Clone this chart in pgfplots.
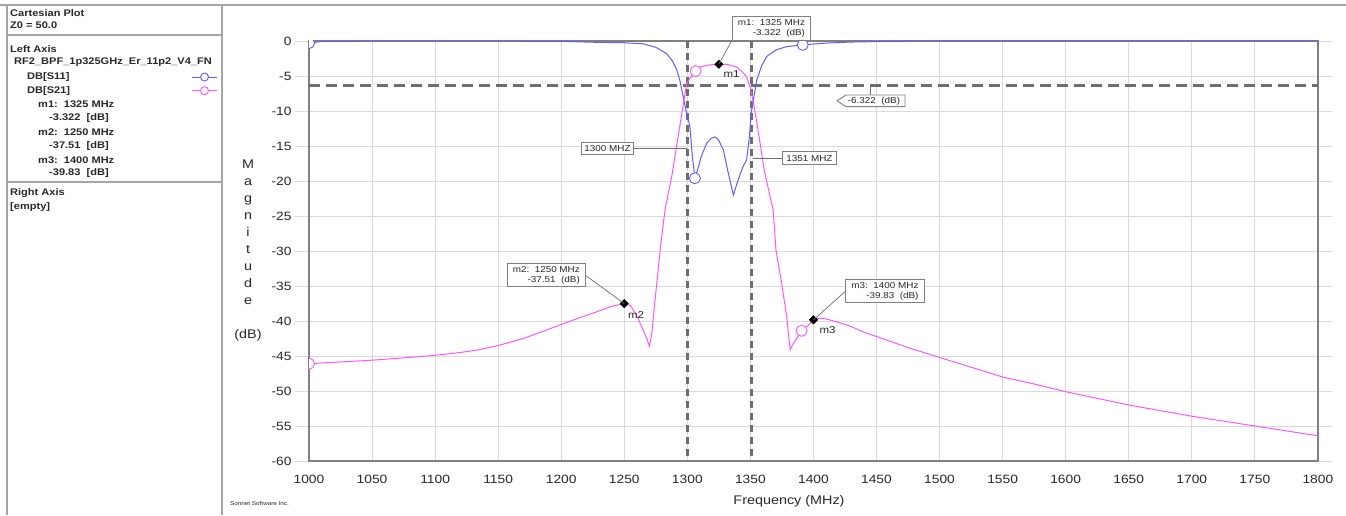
\documentclass[border=0pt]{standalone}
\usepackage{fontspec}
\setmainfont[FakeStretch=1.15]{Liberation Sans}
\usepackage{pgfplots}
\pgfplotsset{compat=1.18}
\definecolor{sblue}{RGB}{95,95,255}
\definecolor{smag}{RGB}{255,85,255}
\definecolor{framegray}{RGB}{128,128,128}
\definecolor{gridgray}{RGB}{218,218,218}
\definecolor{dashgray}{RGB}{110,110,110}
\definecolor{panelgray}{RGB}{165,165,165}
\definecolor{txt}{RGB}{40,40,40}
\begin{document}
\begin{tikzpicture}[x=1pt,y=1pt]
\useasboundingbox (0,0) rectangle (1346,515);
\fill[white] (0,0) rectangle (1346,515);
% frame of the window
\draw[panelgray, line width=1.5pt] (0,510) -- (1346,510);
\draw[panelgray, line width=1.5pt] (7,0) -- (7,510);
\draw[panelgray, line width=1.5pt] (222,0) -- (222,510);
\draw[panelgray, line width=1.5pt] (7,480) -- (222,480);
\draw[panelgray, line width=1.5pt] (7,333) -- (222,333);
% panel text
\begin{scope}[every node/.style={anchor=west, inner sep=0pt, text=txt, font=\fontsize{9.6}{11}\selectfont\bfseries}]
\node at (10,502.3) {Cartesian Plot};
\node at (10,490) {Z0 = 50.0};
\node at (10,466) {Left Axis};
\begin{scope}
\clip (7,440) rectangle (221,470);
\node at (14,453) {RF2\_BPF\_1p325GHz\_Er\_11p2\_V4\_FN};
\end{scope}
\node at (27,438) {DB[S11]};
\node at (27,424.3) {DB[S21]};
\node at (38,410.7) {m1:\ \ 1325 MHz};
\node at (49,396.7) {-3.322\ \ [dB]};
\node at (38,382.7) {m2:\ \ 1250 MHz};
\node at (49,369.3) {-37.51\ \ [dB]};
\node at (38,355) {m3:\ \ 1400 MHz};
\node at (49,341.7) {-39.83\ \ [dB]};
\node at (10,321.7) {Right Axis};
\node at (10,308.3) {[empty]};
\end{scope}
\draw[sblue, line width=0.9pt] (192,438) -- (217,438);
\draw[sblue, line width=0.9pt, fill=white] (204.5,438) circle (4pt);
\draw[smag, line width=0.9pt] (192,424.3) -- (217,424.3);
\draw[smag, line width=0.9pt, fill=white] (204.5,424.3) circle (4pt);

\begin{axis}[
  at={(309pt,54pt)}, anchor=south west, scale only axis,
  width=1009pt, height=420pt,
  xmin=1000, xmax=1800, ymin=-60, ymax=0,
  xtick={1000,1050,...,1800}, ytick={-60,-55,...,0},
  grid=major, major grid style={gridgray, line width=0.9pt},
  axis line style={framegray, line width=1.3pt},
  tick align=outside, major tick length=14pt,
  xtick style={draw=none}, ytick style={gridgray, line width=0.9pt},
  ticklabel style={font=\fontsize{12}{14}\selectfont, text=txt},
  xticklabel style={yshift=3pt},
  /pgf/number format/assume math mode=true,
  /pgf/number format/1000 sep={},
  clip marker paths=true,
]
\addplot[dashgray, line width=2.6pt, dash pattern=on 11pt off 6pt] coordinates {(1000,-6.322) (1800,-6.322)};
\addplot[dashgray, line width=2.6pt, dash pattern=on 7pt off 5pt] coordinates {(1300,0) (1300,-60)};
\addplot[dashgray, line width=2.6pt, dash pattern=on 7pt off 5pt] coordinates {(1351,0) (1351,-60)};
% S11
\addplot[sblue, line width=1pt] coordinates {
(1000,-0.3) (1010,-0.05) (1100,0) (1200,-0.05) (1230,-0.2) (1250,-0.25) (1265,-0.4)
(1275,-0.9) (1283.6,-1.8) (1288,-2.8) (1291.6,-4.1) (1294,-5.6) (1296.8,-8) (1299,-10)
(1302,-12.2) (1304,-16.5) (1306,-19.5) (1308,-18.5) (1311,-16.5) (1315.4,-14.6) (1319,-13.9)
(1322,-13.7) (1325,-14.2) (1328.6,-15.6) (1332,-18.5) (1336.5,-22) (1340,-20) (1344,-18)
(1347,-17) (1349,-14) (1351,-9.9) (1355,-5.6) (1359,-3.5) (1363,-2.2) (1370,-1.3)
(1378.8,-0.8) (1391.7,-0.55) (1410,-0.3) (1430,-0.15) (1460,-0.05) (1500,0) (1800,0)};
\addplot[only marks, mark=*, mark size=5.5pt, mark options={draw=sblue, fill=white, line width=0.9pt}]
coordinates {(1000,-0.3) (1306,-19.6) (1391.5,-0.55)};
% S21
\addplot[smag, line width=1pt] coordinates {
(1000,-46.1) (1020,-45.9) (1050,-45.6) (1080,-45.2) (1100,-44.9) (1120,-44.5) (1135,-44.1)
(1150,-43.5) (1170,-42.5) (1188,-41.3) (1200,-40.5) (1215,-39.5) (1228,-38.7) (1240,-37.9)
(1250,-37.51) (1255,-37.8) (1259.8,-39.2) (1265,-41.3) (1267.8,-42.5) (1270,-43.6)
(1271.8,-41.8) (1274.4,-37) (1276.5,-33.4) (1278.4,-29.9) (1282.3,-24.1) (1287.6,-19.4)
(1294,-12.2) (1299.5,-6) (1306.6,-4.3) (1310,-3.7) (1318,-3.4) (1325,-3.322) (1332,-3.35)
(1339,-3.7) (1344,-4.5) (1347,-5.1) (1350,-6.8) (1352.5,-8.9) (1355,-11.5) (1357.7,-14.6)
(1361,-18.5) (1365.6,-22.2) (1368,-24.1) (1370.3,-29.9) (1374.8,-34.6) (1378.8,-39.4)
(1381.5,-44.1) (1384,-43.2) (1386.7,-42.5) (1390.6,-41.4) (1396,-40.6) (1400,-39.83)
(1405,-39.6) (1410,-39.7) (1420,-40.2) (1430,-40.8) (1440,-41.6) (1453,-42.4) (1475,-43.8)
(1500,-45.2) (1525,-46.6) (1550,-48.0) (1575,-49.0) (1600,-50.1) (1650,-52.0) (1700,-53.6)
(1750,-55.0) (1800,-56.4)};
\addplot[only marks, mark=*, mark size=5.5pt, mark options={draw=smag, fill=white, line width=0.9pt}]
coordinates {(1000,-46.1) (1306.6,-4.3) (1390.6,-41.4)};
% markers m1 m2 m3
\addplot[only marks, mark=square*, mark size=3pt, mark options={rotate=45, fill=black, draw=black}]
coordinates {(1325,-3.322) (1250,-37.51) (1400,-39.83)};
\end{axis}

% annotations
\begin{scope}[every node/.style={font=\fontsize{8.6}{10}\selectfont, text=txt}]
\tikzset{box/.style={draw=framegray, line width=0.9pt, fill=white, inner sep=2.5pt, align=right}}
% m1
\draw[dashgray, line width=0.7pt] (732,475) -- (718.9,450.75);
\node[box, anchor=north west, minimum width=78pt, minimum height=24.5pt] at (732,499) {m1:\ \ 1325 MHz\\-3.322\ \ (dB)};
\node[anchor=center, font=\fontsize{10}{12}\selectfont] at (731.5,441) {m1};
% -6.322 callout
\draw[dashgray, line width=0.7pt] (870,430) -- (870,420);
\draw[framegray, line width=0.9pt, fill=white] (837,414.2) -- (846,420) -- (905,420) -- (905,408.3) -- (846,408.3) -- cycle;
\node at (874,414.2) {-6.322\ \ (dB)};
% 1300 MHZ
\draw[dashgray, line width=0.7pt] (633.3,366.7) -- (687.4,366.7);
\node[box, anchor=center, minimum width=51.6pt, minimum height=12.3pt, inner sep=1pt] at (607.5,366.2) {1300 MHZ};
% 1351 MHZ
\draw[dashgray, line width=0.7pt] (752.8,356.7) -- (782.7,356.7);
\node[box, anchor=center, minimum width=53.3pt, minimum height=13.3pt, inner sep=1pt] at (809.4,356.7) {1351 MHZ};
% m2
\draw[dashgray, line width=0.7pt] (585,240) -- (624.3,211.4);
\node[box, anchor=north west, minimum width=78.3pt, minimum height=21.7pt] at (506.7,251.7) {m2:\ \ 1250 MHz\\-37.51\ \ (dB)};
\node[font=\fontsize{10}{12}\selectfont] at (636,200) {m2};
% m3
\draw[dashgray, line width=0.7pt] (845,223.3) -- (813.5,195.2);
\node[box, anchor=north west, minimum width=79pt, minimum height=22.4pt] at (845,235.7) {m3:\ \ 1400 MHz\\-39.83\ \ (dB)};
\node[font=\fontsize{10}{12}\selectfont] at (827.5,184.5) {m3};
\end{scope}

% axis titles
\node[font=\fontsize{12.5}{17}\selectfont, align=center, text=txt] at (248,282.5) {M\\a\\g\\n\\i\\t\\u\\d\\e};
\node[font=\fontsize{12.5}{15}\selectfont, text=txt] at (248,180) {(dB)};
\node[font=\fontsize{12.5}{15}\selectfont, text=txt] at (789,14) {Frequency (MHz)};
\node[anchor=west, font=\fontsize{5.5}{7}\selectfont, text=txt, inner sep=0pt] at (230,11.5) {Sonnet Software Inc.};
\end{tikzpicture}
\end{document}
